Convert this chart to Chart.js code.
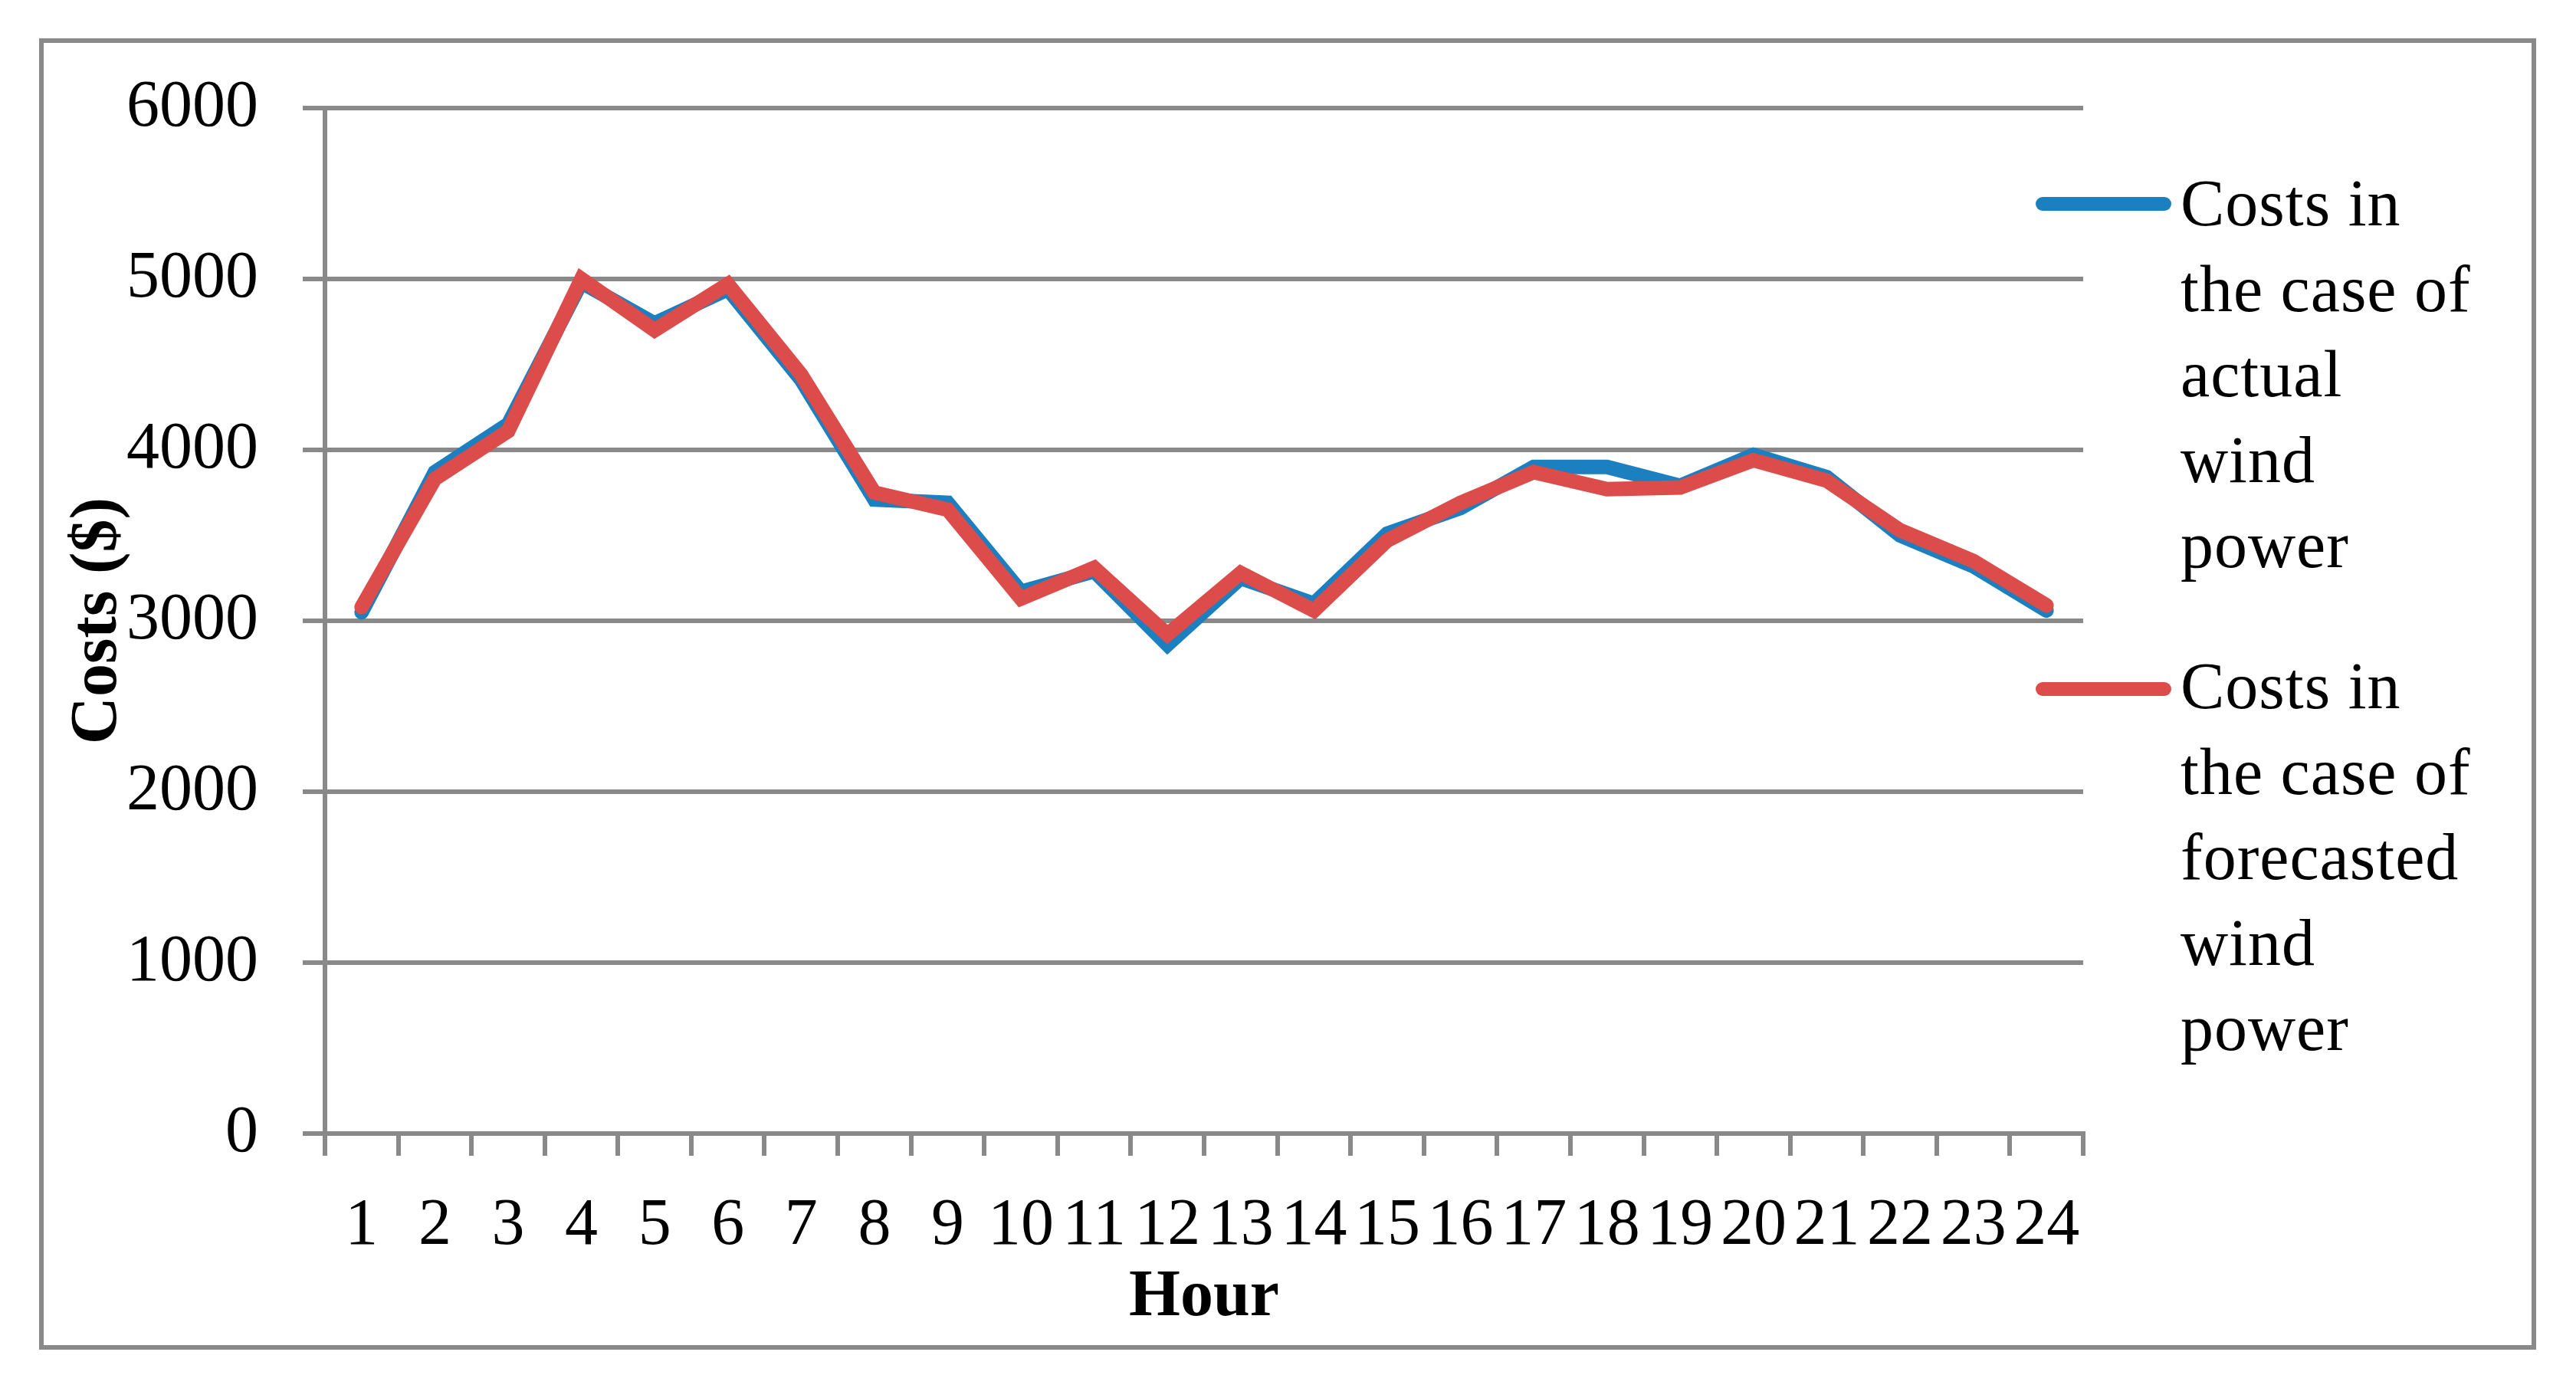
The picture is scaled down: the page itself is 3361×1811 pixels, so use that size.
<!DOCTYPE html>
<html>
<head>
<meta charset="utf-8">
<script src="https://cdn.jsdelivr.net/npm/chart.js@4.4.1/dist/chart.umd.min.js"></script>
<style>
  body { margin: 0; background: #fff; }
  #wrap { position: relative; width: 3361px; height: 1811px; }
  #frame { position: absolute; left: 51px; top: 50px; width: 3258px; height: 1711px; box-sizing: border-box; border: 6px solid #898989; }
  #costChart { position: absolute; left: 0; top: 0; }
  .legend-item { position: absolute; left: 2656px; width: 600px; }
  .legend-line { position: absolute; left: 0; width: 177px; height: 18px; border-radius: 9px; }
  .legend-text { position: absolute; left: 189px; width: 385px; font-family: 'Liberation Serif', serif; font-size: 86px; line-height: 111.5px; color: #000; letter-spacing: 1px; }
</style>
</head>
<body>
<div id="wrap">
  <div id="frame"></div>
  <canvas id="costChart" width="3361" height="1811"></canvas>
  <div id="legend"></div>
</div>
<script>
  'use strict';

  var hours = ['1', '2', '3', '4', '5', '6', '7', '8', '9', '10', '11', '12',
               '13', '14', '15', '16', '17', '18', '19', '20', '21', '22', '23', '24'];
  var actualCosts = [3050, 3870, 4150, 4980, 4740, 4940, 4410, 3710, 3690, 3170, 3290, 2860,
                     3250, 3100, 3510, 3660, 3900, 3900, 3790, 3970, 3840, 3500, 3320, 3060];
  var forecastCosts = [3080, 3830, 4110, 5000, 4700, 4970, 4440, 3750, 3650, 3130, 3310, 2920,
                       3280, 3060, 3470, 3690, 3870, 3770, 3780, 3940, 3820, 3530, 3350, 3090];
  var yTicks = [0, 1000, 2000, 3000, 4000, 5000, 6000];

  var gridGray = '#898989';

  Chart.defaults.font.family = "'Liberation Serif', serif";
  Chart.defaults.font.size = 86;
  Chart.defaults.color = '#000';

  var chart = new Chart(document.getElementById('costChart'), {
    type: 'line',
    data: {
      labels: hours,
      datasets: [
        {
          label: 'Costs in the case of actual wind power',
          data: actualCosts,
          borderColor: '#1B7FC0',
          backgroundColor: '#1B7FC0',
          borderWidth: 19,
          borderCapStyle: 'round',
          pointRadius: 0,
          tension: 0,
          order: 2
        },
        {
          label: 'Costs in the case of forecasted wind power',
          data: forecastCosts,
          borderColor: '#DB4C4A',
          backgroundColor: '#DB4C4A',
          borderWidth: 19,
          borderCapStyle: 'round',
          pointRadius: 0,
          tension: 0,
          order: 1
        }
      ]
    },
    options: {
      responsive: false,
      animation: false,
      layout: { padding: { left: 54, top: 141, right: 643, bottom: 53 } },
      plugins: {
        legend: { display: false },
        tooltip: { enabled: false }
      },
      scales: {
        x: {
          offset: true,
          grid: { offset: true, drawOnChartArea: false, color: gridGray, lineWidth: 6, tickLength: 29 },
          border: { display: true, color: gridGray, width: 6 },
          ticks: { autoSkip: false, maxRotation: 0, minRotation: 0, padding: 41 },
          title: { display: true, text: 'Hour', font: { weight: 'bold', size: 86 }, padding: { top: 0, bottom: 13 } },
          afterFit: function(s) { s.height = 279; }
        },
        y: {
          min: 0,
          max: 6000,
          afterBuildTicks: function(s) { s.ticks = yTicks.map(function(v) { return { value: v }; }); },
          grid: { color: gridGray, lineWidth: 6, tickLength: 29 },
          border: { display: true, color: gridGray, width: 6 },
          ticks: { padding: 58, callback: function(v) { return String(v); } },
          title: { display: true, text: 'Costs ($)', font: { weight: 'bold', size: 86 }, padding: { top: 23, bottom: 0 } },
          afterFit: function(s) { s.width = 370; }
        }
      }
    }
  });

  // html legend, wrapped like the original
  var legendTops = [210, 840];
  var legendLines = [266, 899];
  var legend = document.getElementById('legend');
  chart.data.datasets.forEach(function(ds, i) {
    var item = document.createElement('div');
    item.className = 'legend-item';
    item.style.top = legendTops[i] + 'px';
    var line = document.createElement('div');
    line.className = 'legend-line';
    line.style.background = ds.borderColor;
    line.style.top = (legendLines[i] - legendTops[i] - 9) + 'px';
    var text = document.createElement('div');
    text.className = 'legend-text';
    text.textContent = ds.label;
    item.appendChild(line);
    item.appendChild(text);
    legend.appendChild(item);
  });
</script>
</body>
</html>
